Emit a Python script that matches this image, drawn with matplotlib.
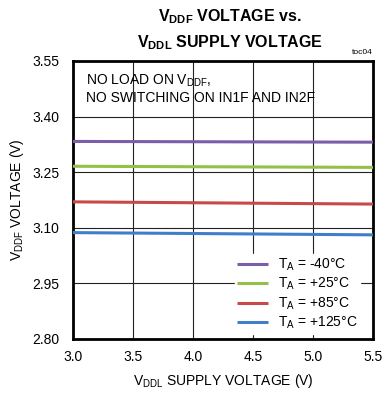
import numpy as np
import matplotlib
matplotlib.use("Agg")
import matplotlib.pyplot as plt

plt.rcParams['font.family'] = ['Liberation Sans', 'DejaVu Sans']
plt.rcParams['mathtext.default'] = 'regular'

# supply voltage sweep (V)
vddl = [3.0, 5.5]

# VDDF output voltage at each temperature (V)
labels = ["T$_A$ = -40°C", "T$_A$ = +25°C", "T$_A$ = +85°C", "T$_A$ = +125°C"]
v_m40 = [3.333, 3.331]
v_25 = [3.266, 3.263]
v_85 = [3.170, 3.164]
v_125 = [3.087, 3.081]
colors = ["#7b5ea7", "#93c047", "#c9494a", "#3f7fca"]

xticks = [3.0, 3.5, 4.0, 4.5, 5.0, 5.5]
yticks = [2.80, 2.95, 3.10, 3.25, 3.40, 3.55]

fig = plt.figure(figsize=(3.83, 3.93), dpi=100)
ax = fig.add_axes([73/383, 1 - 339/393, 300/383, 278/393])

for vals, c, lab in zip([v_m40, v_25, v_85, v_125], colors, labels):
    ax.plot(vddl, vals, color=c, lw=2.2, label=lab, solid_capstyle="butt", zorder=3)

ax.set_xlim(3.0, 5.5)
ax.set_ylim(2.80, 3.55)
ax.set_xticks(xticks)
ax.set_yticks(yticks)
ax.set_xticklabels(["%.1f" % t for t in xticks], fontsize=10)
ax.set_yticklabels(["%.2f" % t for t in yticks], fontsize=10)
ax.tick_params(axis="x", length=0, pad=8)
ax.tick_params(axis="y", length=0, pad=10)
ax.grid(True, color="#222222", lw=0.8)
ax.set_axisbelow(True)
for s in ax.spines.values():
    s.set_linewidth(2)
    s.set_color("black")

ax.set_xlabel("V$_{DDL}$ SUPPLY VOLTAGE (V)", fontsize=10, labelpad=6)
ax.set_ylabel("V$_{DDF}$ VOLTAGE (V)", fontsize=10, labelpad=4)

ax.text(0.045, 0.96, "NO LOAD ON V$_{DDF}$,\nNO SWITCHING ON IN1F AND IN2F",
        transform=ax.transAxes, fontsize=10, va="top", ha="left", linespacing=1.25)

leg = ax.legend(loc="lower right", bbox_to_anchor=((360 - 73) / 300, 5 / 278),
                fontsize=10, frameon=True, handlelength=2.2,
                handletextpad=0.7, labelspacing=0.22, borderaxespad=0,
                borderpad=0.2)
leg.get_frame().set_edgecolor("white")
leg.get_frame().set_facecolor("white")
leg.get_frame().set_alpha(1)
leg.get_frame().set_boxstyle("square", pad=0)

fig.text(230/383, 1 - 17/393, "V$_{DDF}$ VOLTAGE vs.", ha="center", va="center",
         fontsize=11.5, fontweight="bold")
fig.text(230/383, 1 - 43/393, "V$_{DDL}$ SUPPLY VOLTAGE", ha="center", va="center",
         fontsize=11.5, fontweight="bold")
fig.text(373/383, 1 - 52/393, "toc04", ha="right", va="center", fontsize=6)

fig.savefig("out.png", dpi=100)
